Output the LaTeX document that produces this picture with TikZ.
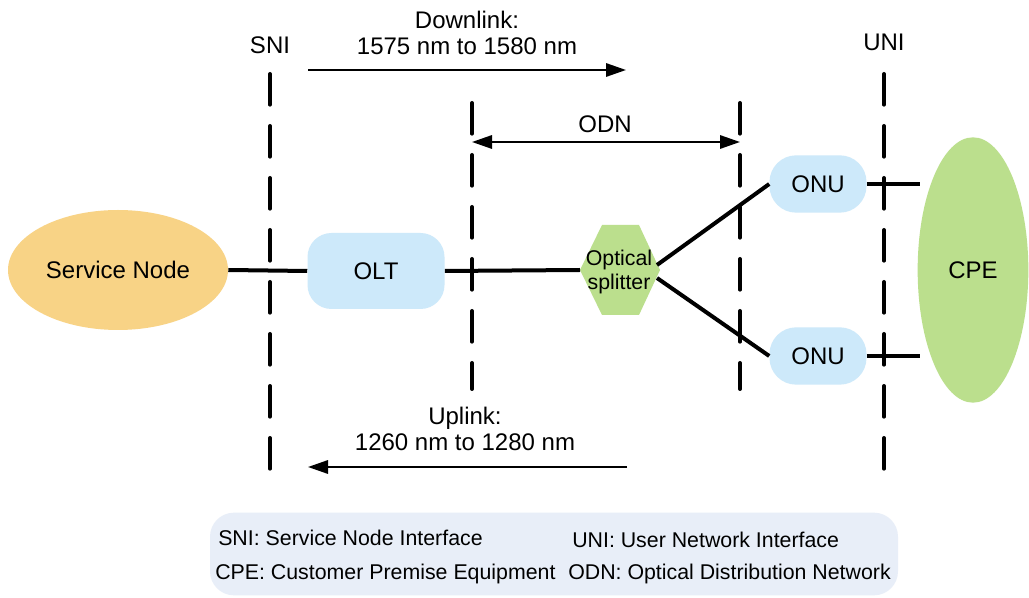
\documentclass[tikz,border=0pt]{standalone}
\usepackage{fontspec}
\setmainfont{Liberation Sans}
\usetikzlibrary{arrows.meta,shapes.geometric}
\definecolor{snfill}{RGB}{248,211,134}
\definecolor{bluefill}{RGB}{205,233,250}
\definecolor{greenfill}{RGB}{187,223,141}
\definecolor{legfill}{RGB}{232,238,248}
\begin{document}
\begin{tikzpicture}[x=0.75pt,y=-0.75pt,
  font=\fontsize{18}{20}\selectfont,
  conn/.style={line width=3pt},
  iface/.style={line width=3pt, line cap=round, dash pattern=on 23pt off 16pt},
  sig/.style={line width=1.6pt, -{Triangle[length=15pt,width=10pt]}},
  sigboth/.style={line width=1.6pt, {Triangle[length=15pt,width=10pt]}-{Triangle[length=15pt,width=10pt]}},
  unit/.style={fill=bluefill, rounded corners=20pt, inner sep=0pt},
  lbl/.style={align=center, inner sep=0pt},
  legtxt/.style={anchor=base west, inner sep=0pt, font=\fontsize{16}{18}\selectfont}]
\useasboundingbox (0,0) rectangle (1029,598);
\fill[white] (0,0) rectangle (1029,598);

% interface lines
\coordinate (sniT) at (270,74); \coordinate (sniB) at (270,476);
\coordinate (odnLT) at (472,103); \coordinate (odnLB) at (472,389);
\coordinate (odnRT) at (740,103); \coordinate (odnRB) at (740,389);
\coordinate (uniT) at (884,74); \coordinate (uniB) at (884,476);

% nodes
\node[ellipse, fill=snfill, minimum width=165pt, minimum height=90pt, inner sep=0pt] (sn) at (118,270) {Service Node};
\node[unit, minimum width=102.75pt, minimum height=57pt, rounded corners=18pt] (olt) at (376,271) {OLT};
\node[unit, minimum width=72.75pt, minimum height=43pt] (onu1) at (818,184) {ONU};
\node[unit, minimum width=72.75pt, minimum height=43pt] (onu2) at (818,356) {ONU};
\node[ellipse, fill=greenfill, minimum width=83pt, minimum height=199pt, inner sep=0pt] (cpe) at (973,270) {CPE};

% splitter hexagon
\coordinate (spl) at (620,270);
\coordinate (splW) at (580,270);
\coordinate (splE) at (660,270);
\coordinate (splNE) at (657,265);
\coordinate (splSE) at (657,278);
\fill[greenfill] (splW) -- (602,225) -- (639,225) -- (splE) -- (639,315) -- (602,315) -- cycle;

% connectors
\draw[conn] (sn.east) -- (olt.west);
\draw[conn] (olt.east) -- (splW);
\draw[conn] (splNE) -- (onu1.west);
\draw[conn] (splSE) -- (onu2.west);
\coordinate (c1) at (920,184);
\coordinate (c2) at (920,356);
\draw[conn] (onu1.east) -- (c1);
\draw[conn] (onu2.east) -- (c2);

\node[lbl, font=\fontsize{16}{18}\selectfont] (spltxt) at (619,272) {Optical\\splitter};

% dashed interface lines
\draw[iface] (sniT) -- (sniB);
\draw[iface] (odnLT) -- (odnLB);
\draw[iface] (odnRT) -- (odnRB);
\draw[iface] (uniT) -- (uniB);

\node[lbl] (snilbl) at (270,45) {SNI};
\node[lbl] (unilbl) at (884,42) {UNI};

% signal arrows
\coordinate (dlS) at (308,70); \coordinate (dlE) at (626,70);
\draw[sig] (dlS) -- (dlE);
\node[lbl, font=\fontsize{18}{19.5}\selectfont] (dllbl) at (467,33) {Downlink:\\1575 nm to 1580 nm};

\coordinate (odnA) at (472,142); \coordinate (odnB) at (740,142);
\draw[sigboth] (odnA) -- (odnB);
\node[lbl] (odnlbl) at (605,124) {ODN};

\coordinate (ulS) at (627,467); \coordinate (ulE) at (308,467);
\draw[sig] (ulS) -- (ulE);
\node[lbl, font=\fontsize{18}{19.5}\selectfont] (ullbl) at (465,429) {Uplink:\\1260 nm to 1280 nm};

% legend
\node[fill=legfill, rounded corners=18pt, minimum width=516pt, minimum height=62pt, inner sep=0pt] (leg) at (554,554) {};
\node[legtxt] (l1) at (218,546) {SNI: Service Node Interface};
\node[legtxt] (l2) at (572,548) {UNI: User Network Interface};
\node[legtxt] (l3) at (215,580) {CPE: Customer Premise Equipment};
\node[legtxt] (l4) at (568,580) {ODN: Optical Distribution Network};
\end{tikzpicture}
\end{document}
